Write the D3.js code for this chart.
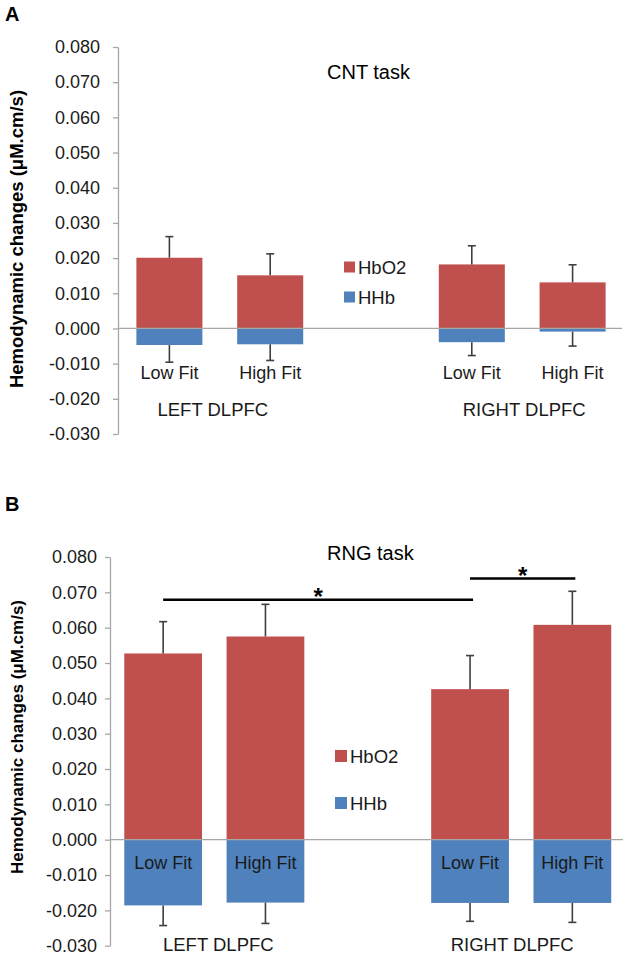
<!DOCTYPE html>
<html>
<head>
<meta charset="utf-8">
<script src="https://cdn.jsdelivr.net/npm/d3@7"></script>
<style>
  html, body { margin: 0; padding: 0; background: #fff; }
  svg { display: block; font-family: "Liberation Sans", Arial, sans-serif; }
</style>
</head>
<body>
<svg id="chart" width="630" height="958"></svg>
<script>
// ---------- DATA ----------
const categories = ["Low Fit", "High Fit", "", "Low Fit", "High Fit"];
const slotKeys = ["LL", "LH", "gap", "RL", "RH"];
const barKeys = ["LL", "LH", "RL", "RH"];
const barLabels = ["Low Fit", "High Fit", "Low Fit", "High Fit"];
const groupLabels = ["LEFT DLPFC", "RIGHT DLPFC"];
const seriesNames = ["HbO2", "HHb"];
const yTicks = [-0.03, -0.02, -0.01, 0, 0.01, 0.02, 0.03, 0.04, 0.05, 0.06, 0.07, 0.08];

// Panel A: CNT task
const cntHbO2 = [0.0201, 0.0151, 0.0182, 0.0131];
const cntHbO2Err = [0.0060, 0.0061, 0.0053, 0.0050];
const cntHHb = [-0.0047, -0.0045, -0.0039, -0.0009];
const cntHHbErr = [0.0049, 0.0046, 0.0038, 0.0041];

// Panel B: RNG task
const rngHbO2 = [0.0527, 0.0575, 0.0426, 0.0608];
const rngHbO2Err = [0.0090, 0.0091, 0.0095, 0.0095];
const rngHHb = [-0.0186, -0.0178, -0.0179, -0.0179];
const rngHHbErr = [0.0057, 0.0059, 0.0052, 0.0055];

// Significance brackets in panel B: [fromBar, toBar, level]
const rngSig = [["LL", "RL", 0.0679], ["RL", "RH", 0.0739]];

// ---------- STYLE ----------
const RED = "#C0504D", BLUE = "#4F81BD", AXIS = "#A6A6A6", ERR = "#3f3f3f", TXT = "#1a1a1a";
const svg = d3.select("#chart");

function panel(cfg) {
  const g = svg.append("g");
  const y = d3.scaleLinear().domain([-0.03, 0.08]).range([cfg.yBottom, cfg.yTop]);
  const x = d3.scaleBand().domain(slotKeys).range([cfg.x0, cfg.x1])
    .paddingInner(cfg.pad).paddingOuter(cfg.pad / 2);

  // panel letter
  g.append("text").attr("x", 5).attr("y", cfg.letterY)
    .attr("font-size", 20).attr("font-weight", "bold").attr("fill", "#000").text(cfg.letter);

  // y axis
  const ax = g.append("g").attr("transform", `translate(${cfg.axisX},0)`)
    .call(d3.axisLeft(y).tickValues(yTicks).tickFormat(d3.format(".3f"))
      .tickSize(5).tickPadding(cfg.tickPad).tickSizeOuter(0));
  ax.select(".domain").attr("stroke", AXIS).attr("stroke-width", 1.3);
  ax.selectAll(".tick line").attr("stroke", AXIS).attr("stroke-width", 1.3);
  ax.selectAll(".tick text").attr("font-size", 18).attr("fill", TXT)
    .attr("font-family", "Liberation Sans, Arial, sans-serif")
    .text(d => d3.format(".3f")(d).replace("−", "-"));

  // y title
  g.append("text")
    .attr("transform", `translate(${cfg.titleX},${cfg.titleY}) rotate(-90)`)
    .attr("text-anchor", "middle").attr("font-weight", "bold")
    .attr("font-size", cfg.titleSize).attr("fill", "#000")
    .text("Hemodynamic changes (μM.cm/s)");

  // bars HbO2
  const pos = cfg.hbo2, neg = cfg.hhb;
  g.selectAll(".hbo2").data(barKeys).enter().append("rect")
    .attr("x", d => x(d)).attr("width", x.bandwidth())
    .attr("y", (d, i) => y(pos[i])).attr("height", (d, i) => y(0) - y(pos[i]))
    .attr("fill", RED);
  g.selectAll(".hhb").data(barKeys).enter().append("rect")
    .attr("x", d => x(d)).attr("width", x.bandwidth())
    .attr("y", y(0)).attr("height", (d, i) => y(neg[i]) - y(0))
    .attr("fill", BLUE);

  // zero line
  g.append("line").attr("x1", cfg.axisX).attr("x2", cfg.zeroEnd)
    .attr("y1", y(0)).attr("y2", y(0)).attr("stroke", AXIS).attr("stroke-width", 1.3);

  // error bars
  const cx = d => x(d) + x.bandwidth() / 2;
  const errs = [];
  barKeys.forEach((k, i) => {
    errs.push({ k, from: pos[i], to: pos[i] + cfg.hbo2Err[i] });
    errs.push({ k, from: neg[i], to: neg[i] - cfg.hhbErr[i] });
  });
  errs.forEach(e => {
    g.append("line").attr("x1", cx(e.k)).attr("x2", cx(e.k))
      .attr("y1", y(e.from)).attr("y2", y(e.to)).attr("stroke", ERR).attr("stroke-width", 1.6);
    g.append("line").attr("x1", cx(e.k) - 4).attr("x2", cx(e.k) + 4)
      .attr("y1", y(e.to)).attr("y2", y(e.to)).attr("stroke", ERR).attr("stroke-width", 1.6);
  });

  // category labels
  g.selectAll(".cat").data(barKeys).enter().append("text")
    .attr("x", d => cx(d)).attr("y", cfg.catY)
    .attr("text-anchor", "middle").attr("font-size", 18).attr("fill", TXT)
    .attr("dominant-baseline", "central")
    .text((d, i) => barLabels[i]);

  // group labels
  const groups = [["LL", "LH"], ["RL", "RH"]];
  groups.forEach((gr, i) => {
    const mx = (cx(gr[0]) + cx(gr[1])) / 2 + cfg.groupShift[i];
    g.append("text").attr("x", mx).attr("y", cfg.groupY)
      .attr("text-anchor", "middle").attr("dominant-baseline", "central")
      .attr("font-size", 18.5).attr("fill", TXT).text(groupLabels[i]);
  });

  // task title
  g.append("text").attr("x", cfg.taskX).attr("y", cfg.taskY)
    .attr("dominant-baseline", "central").attr("font-size", 20).attr("fill", "#000")
    .text(cfg.task);

  // legend
  const colors = [RED, BLUE];
  seriesNames.forEach((s, i) => {
    const ly = cfg.legY + i * cfg.legGap;
    g.append("rect").attr("x", cfg.legX).attr("y", ly - cfg.legSq / 2)
      .attr("width", cfg.legSq).attr("height", cfg.legSq).attr("fill", colors[i]);
    g.append("text").attr("x", cfg.legX + cfg.legSq + 3).attr("y", ly)
      .attr("dominant-baseline", "central").attr("font-size", 18.5).attr("fill", TXT).text(s);
  });

  // significance
  (cfg.sig || []).forEach(s => {
    const x1 = cx(s[0]), x2 = cx(s[1]) + 3;
    g.append("line").attr("x1", x1).attr("x2", x2).attr("y1", y(s[2])).attr("y2", y(s[2]))
      .attr("stroke", "#000").attr("stroke-width", 2.6);
    g.append("text").attr("x", (x1 + x2) / 2).attr("y", y(s[2]) + 5)
      .attr("text-anchor", "middle").attr("font-size", 24).attr("font-weight", "bold")
      .attr("fill", "#000").text("*");
  });
}

panel({
  letter: "A", letterY: 21,
  yTop: 47, yBottom: 434, x0: 119, x1: 623, pad: 0.345, axisX: 118, zeroEnd: 622,
  tickPad: 13, titleX: 23, titleY: 239, titleSize: 18.5,
  hbo2: cntHbO2, hbo2Err: cntHbO2Err, hhb: cntHHb, hhbErr: cntHHbErr,
  catY: 373, groupY: 409, groupShift: [-7, 2],
  task: "CNT task", taskX: 327, taskY: 72,
  legX: 344, legY: 267, legGap: 30, legSq: 11
});

panel({
  letter: "B", letterY: 511,
  yTop: 557, yBottom: 945.7, x0: 112, x1: 623.5, pad: 0.24, axisX: 110, zeroEnd: 623,
  tickPad: 8, titleX: 23, titleY: 737, titleSize: 17,
  hbo2: rngHbO2, hbo2Err: rngHbO2Err, hhb: rngHHb, hhbErr: rngHHbErr,
  catY: 863, groupY: 944, groupShift: [4, -9],
  task: "RNG task", taskX: 327, taskY: 553,
  legX: 335, legY: 756, legGap: 47, legSq: 12,
  sig: rngSig
});
</script>
</body>
</html>
